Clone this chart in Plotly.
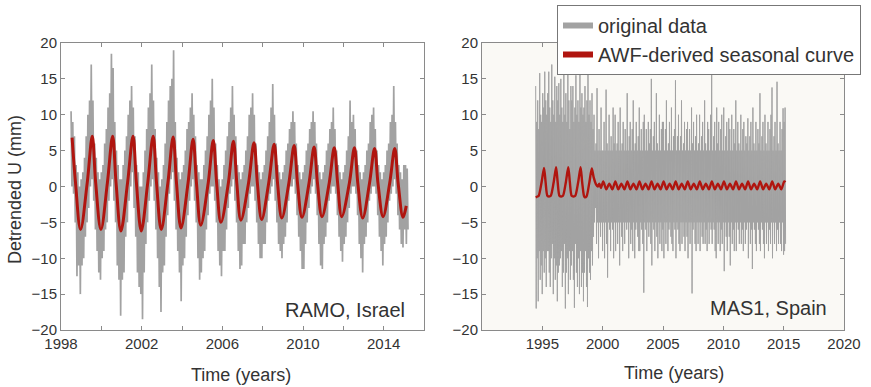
import numpy as np
import plotly.graph_objects as go

# ---------------- DATA ----------------
# RAMO, Israel: detrended U (mm); monthly max / min of the daily series, starting 1998.5
ramo_start = 1998.5
ramo_upper = [
    10.5, 9, 7, 3, 2, 0,                                  # 1998 Jul-Dec
    1, 2, 4, 7, 10, 12, 17, 12, 6, 4, 2, 1,               # 1999
    2, 3, 6, 8, 11, 13, 18.5, 16.5, 9, 5, 3, 1,           # 2000
    1, 3, 5, 7, 10, 12, 14, 11, 7, 3, 2, 0,               # 2001
    0, 2, 5, 8, 11, 13, 17, 12, 8, 4, 2, 0,               # 2002
    1, 3, 6, 9, 12, 14, 15, 19, 9, 4, 2, 1,               # 2003
    2, 3, 5, 8, 9, 11, 13, 10, 7, 3, 2, 1,                # 2004
    1, 3, 5, 7, 10, 12, 15, 11, 6, 3, 1, 0,               # 2005
    1, 3, 5, 7, 9, 11, 14, 10, 7, 3, 2, 1,                # 2006
    2, 3, 5, 7, 10, 11, 13, 10, 6, 3, 2, 1,               # 2007
    2, 3, 5, 7, 9, 11, 14.3, 10, 6, 3, 2, 1,              # 2008
    2, 3, 5, 6, 8, 9, 10.5, 9, 6, 3, 2, 1,                # 2009
    2, 3, 5, 6, 8, 9, 10.5, 9, 6, 3, 2, 1,                # 2010
    2, 3, 5, 6, 8, 9, 11, 8, 5, 3, 2, 1,                  # 2011
    2, 3, 5, 7, 12, 9, 10, 8, 5, 3, 2, 1,                 # 2012
    2, 3, 5, 6, 9, 10, 11, 8, 5, 3, 2, 1,                 # 2013
    2, 3, 5, 6, 9, 10, 14, 9, 6, 3, 2, 1,                 # 2014
    3, 3, 2.5,                                            # 2015 Jan-Mar
]
ramo_lower = [
    0, -1, -5, -12.5, -11, -15,                           # 1998 Jul-Dec
    -11, -10, -7, -5, -3, 0, 1, -2, -6, -9, -12, -13,     # 1999
    -10, -9, -6, -5, -2, 0, 1, -2, -5, -11, -13, -18,     # 2000
    -13, -12, -7, -5, -2, 0, 2, -3, -7, -12, -14, -15,    # 2001
    -18.5, -12, -8, -5, -2, 0, 1, -2, -6, -10, -14, -17.5,  # 2002
    -12, -11, -7, -4, -1, 1, 2, -2, -6, -9, -12, -16,     # 2003
    -11, -10, -7, -4, -2, 0, 1, -2, -5, -10, -13, -12,    # 2004
    -10, -9, -6, -4, -1, 0, 0, -2, -5, -9, -11, -12.5,    # 2005
    -9, -9, -6, -3, -1, 0, 1, -2, -5, -9, -11.5, -11,     # 2006
    -8, -8, -5, -3, -1, 0, 0, -2, -5, -8, -10, -10,       # 2007
    -8, -8, -5, -2, -1, 0, 1, -2, -5, -8, -9, -10,        # 2008
    -8, -7, -5, -2, 0, 0, 1, -1, -4, -7, -9, -11.5,       # 2009
    -11.5, -8, -5, -3, -1, 0, 1, -1, -4, -8, -11, -11.5,  # 2010
    -8, -7, -5, -2, -1, 0, 0, -1, -4, -7, -9, -10.5,      # 2011
    -8, -7, -5, -3, -1, 0, 0, -1, -4, -8, -10, -12,       # 2012
    -8, -7, -5, -2, -1, 0, 0, -1, -4, -7, -9, -11,        # 2013
    -8, -7, -5, -2, -1, 0, 1, -1, -4, -6, -8, -8.5,       # 2014
    -6, -8, -6,                                           # 2015 Jan-Mar
]
# RAMO AWF-derived seasonal curve (turning points and mid-crossings)
ramo_season_t = [
    1998.55, 1998.72, 1998.97, 1999.30, 1999.55, 1999.72, 1999.98, 2000.30,
    2000.56, 2000.73, 2000.97, 2001.30, 2001.57, 2001.74, 2001.98, 2002.30,
    2002.57, 2002.74, 2002.97, 2003.30, 2003.56, 2003.73, 2003.95, 2004.30,
    2004.55, 2004.72, 2004.93, 2005.30, 2005.55, 2005.72, 2005.93, 2006.30,
    2006.55, 2006.72, 2006.92, 2007.30, 2007.57, 2007.74, 2007.95, 2008.30,
    2008.57, 2008.74, 2008.95, 2009.30, 2009.56, 2009.73, 2009.95, 2010.30,
    2010.55, 2010.72, 2010.94, 2011.30, 2011.55, 2011.72, 2011.92, 2012.30,
    2012.55, 2012.72, 2012.96, 2013.30, 2013.55, 2013.72, 2013.97, 2014.30,
    2014.55, 2014.72, 2014.96, 2015.12,
]
ramo_season_v = [
    6.8, 0.5, -6.0, 0.5, 7.0, 0.5, -6.0, 0.5,
    7.0, 0.5, -6.2, 0.5, 7.0, 0.5, -6.2, 0.5,
    7.0, 0.4, -6.0, 0.5, 6.9, 0.4, -5.8, 0.5,
    6.6, 0.4, -5.4, 0.5, 6.4, 0.4, -5.0, 0.5,
    6.3, 0.4, -4.7, 0.5, 6.1, 0.4, -4.6, 0.5,
    5.9, 0.4, -4.4, 0.5, 5.7, 0.4, -4.3, 0.5,
    5.5, 0.4, -4.2, 0.5, 5.4, 0.4, -4.2, 0.5,
    5.4, 0.4, -4.4, 0.5, 5.3, 0.4, -4.2, 0.5,
    5.3, 0.4, -4.3, -2.7,
]

# MAS1, Spain: detrended U (mm); monthly max / min, starting 1994.45
mas1_start = 1994.45
mas1_upper = [
    14, 9, 12, 8, 15.8, 10, 9, 13, 11, 16, 12, 10,
    13, 16, 11, 9, 17, 12, 10, 15.3, 9, 14, 12, 14.4,
    10, 15, 11, 9, 16, 10, 13, 9, 15.7, 12, 8, 14,
    12, 14, 9, 11, 15.5, 10, 12, 9, 16, 11, 13, 10,
    11, 14, 9, 12, 15.7, 10, 12, 9, 13, 8, 10, 5,
    6, 13.7, 5, 8, 5, 11, 5,                              # 1999 tail
    5, 9, 5, 13.5, 6, 5, 10, 5, 7, 5, 11, 6,              # 2000
    10, 5, 6, 9, 5, 11, 5, 6, 9, 5, 8, 5,                 # 2001
    13, 5, 7, 9, 5, 8, 12, 5, 6, 9, 5, 7,                 # 2002
    11, 5, 8, 5, 9, 10, 5, 8, 5, 9, 6, 8,                 # 2003
    15, 5, 7, 9, 5, 13, 6, 5, 10, 5, 8, 9,                # 2004
    9, 5, 8, 12, 5, 6, 9, 5, 11, 5, 7, 8,                 # 2005
    14.8, 5, 7, 10, 5, 7, 12, 5, 6, 9, 5, 8,              # 2006
    9, 5, 8, 5, 11, 6, 9, 5, 7, 10, 5, 6,                 # 2007
    10, 5, 7, 9, 5, 12, 6, 5, 9, 8, 5, 10,                # 2008
    16, 5, 7, 9, 5, 11, 6, 9, 5, 8, 10, 5,                # 2009
    11, 5, 7, 9, 5, 9.5, 8, 5, 10, 5, 8, 6,               # 2010
    12, 5, 9, 6, 5, 10, 5, 8, 9, 5, 7, 6,                 # 2011
    9.5, 5, 7, 9, 5, 11, 6, 5, 9, 5, 8, 6,                # 2012
    13, 5, 7, 9, 5, 10, 6, 5, 9, 5, 8, 10,                # 2013
    13.8, 5, 7, 9, 5, 14.6, 6, 5, 9, 5, 8, 10.9,          # 2014
    9, 11,                                                # 2015
]
mas1_lower = [
    -17, -10, -16, -9, -13, -11, -15, -9, -12, -10, -14, -9,
    -9, -12, -14, -10, -8, -15, -10, -13, -11, -16, -12, -11,
    -10, -9, -14, -12, -8, -17, -12, -10, -15, -9, -13, -11,
    -9, -13, -16.9, -8, -12, -14, -10, -15, -9, -14, -12, -16,
    -12, -9, -14, -16.8, -10, -12, -13, -9, -11, -7, -5, -3,
    -8, -5, -10, -5, -7, -5, -9,                          # 1999 tail
    -5, -10, -5, -8, -12.7, -5, -6, -9, -5, -6, -10, -5,  # 2000
    -9, -5, -8, -5, -11, -5, -7, -9, -5, -8, -5, -6,      # 2001
    -5, -10, -5, -8, -6, -9, -5, -10, -6, -5, -7, -9,     # 2002
    -9, -5, -6, -8, -14.8, -5, -6, -9, -5, -7, -5, -8,    # 2003
    -11, -5, -6, -9, -5, -7, -10, -5, -8, -5, -9, -6,     # 2004
    -10, -5, -8, -5, -9, -6, -5, -7, -8, -9, -5, -6,      # 2005
    -10, -5, -6, -8, -9, -5, -8, -5, -7, -9, -5, -7,      # 2006
    -10, -5, -8, -5, -14.9, -6, -5, -8, -9, -5, -8, -5,   # 2007
    -9, -5, -7, -8, -5, -8, -6, -9, -5, -8, -5, -6,       # 2008
    -8, -5, -6, -9, -10, -5, -8, -5, -9, -6, -8, -5,      # 2009
    -11.8, -5, -7, -9, -5, -7, -11, -5, -8, -6, -9, -5,   # 2010
    -9, -5, -6, -8, -5, -8, -6, -9, -5, -8, -6, -5,       # 2011
    -10, -5, -8, -6, -11.5, -5, -6, -8, -9, -5, -6, -8,   # 2012
    -9, -5, -6, -8, -10, -5, -8, -5, -9, -6, -8, -5,      # 2013
    -10, -5, -8, -5, -9, -6, -8, -5, -8, -9, -5, -9.5,    # 2014
    -9, -8,                                               # 2015
]
# MAS1 AWF-derived seasonal curve
mas1_season_t = [
    1994.45, 1994.60,
    1994.70, 1994.94, 1995.14, 1995.27, 1995.42, 1995.56,
    1995.70, 1995.94, 1996.14, 1996.27, 1996.42, 1996.57,
    1996.71, 1996.95, 1997.15, 1997.28, 1997.43, 1997.59,
    1997.73, 1997.97, 1998.17, 1998.30, 1998.45, 1998.52,
    1998.66, 1998.90, 1999.10, 1999.25, 1999.45, 1999.60, 1999.72, 1999.85,
    2000.05, 2000.30, 2000.55, 2000.80, 2001.05, 2001.30, 2001.55, 2001.80,
    2002.05, 2002.30, 2002.55, 2002.80, 2003.05, 2003.30, 2003.55, 2003.80,
    2004.05, 2004.30, 2004.55, 2004.80, 2005.05, 2005.30, 2005.55, 2005.80,
    2006.05, 2006.30, 2006.55, 2006.80, 2007.05, 2007.30, 2007.55, 2007.80,
    2008.05, 2008.30, 2008.55, 2008.80, 2009.05, 2009.30, 2009.55, 2009.80,
    2010.05, 2010.30, 2010.55, 2010.80, 2011.05, 2011.30, 2011.55, 2011.80,
    2012.05, 2012.30, 2012.55, 2012.80, 2013.05, 2013.30, 2013.55, 2013.80,
    2014.05, 2014.30, 2014.55, 2014.80, 2015.05, 2015.15,
]
mas1_season_v = [
    -1.5, -1.4,
    -1.3, 0.6, 2.6, 0.6, -1.3, -1.4,
    -1.3, 0.6, 2.7, 0.6, -1.3, -1.4,
    -1.3, 0.6, 2.7, 0.6, -1.3, -1.4,
    -1.3, 0.6, 2.7, 0.6, -1.3, -1.5,
    -1.4, 0.6, 2.5, 1.3, 0.3, 0.0, 0.4, -0.2,
    0.7, -0.4, 0.4, -0.4, 0.7, -0.4, 0.4, -0.4,
    0.7, -0.4, 0.4, -0.4, 0.7, -0.4, 0.4, -0.4,
    0.7, -0.4, 0.4, -0.4, 0.7, -0.4, 0.4, -0.4,
    0.7, -0.4, 0.4, -0.4, 0.7, -0.4, 0.4, -0.4,
    0.7, -0.4, 0.4, -0.4, 0.7, -0.4, 0.4, -0.4,
    0.7, -0.4, 0.4, -0.4, 0.7, -0.4, 0.4, -0.4,
    0.7, -0.4, 0.4, -0.4, 0.7, -0.4, 0.4, -0.4,
    0.7, -0.4, 0.4, -0.4, 0.7, 0.6,
]

ramo_ticks = [1998, 2000, 2002, 2004, 2006, 2008, 2010, 2012, 2014, 2016]
ramo_ticklabels = ["1998", "", "2002", "", "2006", "", "2010", "", "2014", ""]
mas1_ticks = [1990, 1995, 2000, 2005, 2010, 2015, 2020]
mas1_ticklabels = ["", "1995", "2000", "2005", "2010", "2015", "2020"]
y_ticks = [-20, -15, -10, -5, 0, 5, 10, 15, 20]


def interleave(start, upper, lower):
    """Daily-series stand-in: each month drawn as its max then its min."""
    n = len(upper)
    t = start + np.arange(n) / 12.0
    xs = np.empty(2 * n)
    ys = np.empty(2 * n)
    xs[0::2] = t
    xs[1::2] = t + 1 / 24.0
    ys[0::2] = upper
    ys[1::2] = lower
    return xs, ys


# ---------------- STYLE ----------------
GRAY = "#a2a2a2"
RED = "#b0150f"
TXT = "#333333"
FONT = "Liberation Sans, Arial, sans-serif"

rx, ry = interleave(ramo_start, ramo_upper, ramo_lower)
mx, my = interleave(mas1_start, mas1_upper, mas1_lower)

fig = go.Figure()
fig.add_trace(go.Scatter(x=rx, y=ry, mode="lines", line=dict(color=GRAY, width=1.7),
                         showlegend=False, xaxis="x", yaxis="y"))
fig.add_trace(go.Scatter(x=ramo_season_t, y=ramo_season_v, mode="lines",
                         line=dict(color=RED, width=3, shape="spline", smoothing=1.0),
                         showlegend=False, xaxis="x", yaxis="y"))
fig.add_trace(go.Scatter(x=mx, y=my, mode="lines", line=dict(color=GRAY, width=1.0),
                         showlegend=False, xaxis="x2", yaxis="y2"))
fig.add_trace(go.Scatter(x=mas1_season_t, y=mas1_season_v, mode="lines",
                         line=dict(color=RED, width=2.4, shape="spline", smoothing=0.7),
                         showlegend=False, xaxis="x2", yaxis="y2"))
# legend swatches
fig.add_trace(go.Scatter(x=[None], y=[None], mode="lines", name="original data",
                         line=dict(color=GRAY, width=6), xaxis="x2", yaxis="y2"))
fig.add_trace(go.Scatter(x=[None], y=[None], mode="lines", name="AWF-derived seasonal curve",
                         line=dict(color=RED, width=6), xaxis="x2", yaxis="y2"))

W, H = 871, 387
ax_common = dict(showline=True, linecolor="#8a8a8a", linewidth=1, mirror="ticks",
                 ticks="inside", ticklen=4, tickcolor="#8a8a8a", showgrid=False,
                 zeroline=False, automargin=False,
                 tickfont=dict(size=15, color=TXT, family=FONT))

title_font = dict(size=18, color=TXT, family=FONT)
label_font = dict(size=20, color=TXT, family=FONT)

fig.update_layout(
    width=W, height=H,
    margin=dict(l=0, r=0, t=0, b=0, autoexpand=False),
    paper_bgcolor="white", plot_bgcolor="white",
    font=dict(family=FONT, color=TXT),
    xaxis=dict(domain=[61 / W, 424 / W], range=[1998, 2016], tickvals=ramo_ticks,
               ticktext=ramo_ticklabels, anchor="y", **ax_common),
    yaxis=dict(domain=[1 - 330 / H, 1 - 43 / H], range=[-20, 20], tickvals=y_ticks,
               anchor="x", **ax_common),
    xaxis2=dict(domain=[482 / W, 844 / W], range=[1990, 2020], tickvals=mas1_ticks,
                ticktext=mas1_ticklabels, anchor="y2", **ax_common),
    yaxis2=dict(domain=[1 - 330 / H, 1 - 43 / H], range=[-20, 20], tickvals=y_ticks,
                anchor="x2", **ax_common),
    legend=dict(x=557 / W, y=1 - 5 / H, xanchor="left", yanchor="top",
                bgcolor="white", bordercolor="#777777", borderwidth=1,
                font=label_font, tracegroupgap=0, itemwidth=30),
    shapes=[dict(type="rect", xref="paper", yref="paper", layer="below",
                 x0=482 / W, x1=844 / W, y0=1 - 330 / H, y1=1 - 43 / H,
                 fillcolor="#faf9f5", line=dict(width=0))],
    annotations=[
        dict(text="RAMO, Israel", xref="x", yref="y", x=2015.15, y=-17.2,
             xanchor="right", yanchor="middle", showarrow=False, font=label_font),
        dict(text="MAS1, Spain", xref="x2", yref="y2", x=2018.75, y=-16.9,
             xanchor="right", yanchor="middle", showarrow=False, font=label_font),
        dict(text="Time (years)", xref="paper", yref="paper", x=241 / W, y=1 - 375 / H,
             xanchor="center", yanchor="middle", showarrow=False, font=title_font),
        dict(text="Time (years)", xref="paper", yref="paper", x=674 / W, y=1 - 373 / H,
             xanchor="center", yanchor="middle", showarrow=False, font=title_font),
        dict(text="Detrended U (mm)", xref="paper", yref="paper", x=15 / W, y=1 - 190 / H,
             xanchor="center", yanchor="middle", textangle=-90, showarrow=False,
             font=title_font),
    ],
)

# remove the browser's default 8px page margin so the figure sits at the window origin
fig.write_html("out.html", config={"displayModeBar": False},
               post_script="document.body.style.margin='0px';")
